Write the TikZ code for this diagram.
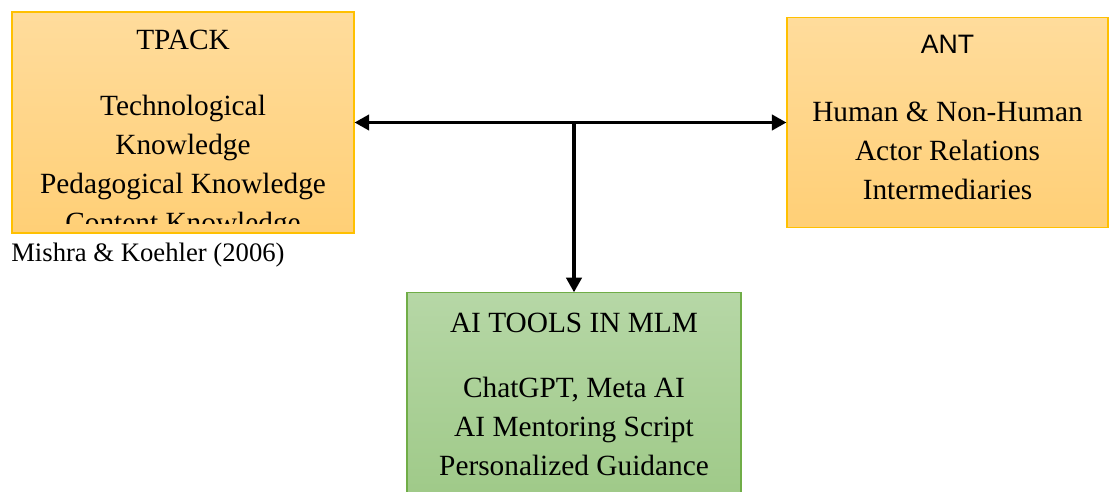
\documentclass[tikz,border=0pt]{standalone}
\usepackage{fontspec}
\setmainfont{Liberation Serif}
\newfontfamily\antfont{Liberation Sans}
\usepackage{tikz}
\usetikzlibrary{arrows.meta, positioning}
\definecolor{orangetop}{RGB}{255,220,156}
\definecolor{orangebot}{RGB}{255,207,118}
\definecolor{orangeline}{RGB}{255,192,0}
\definecolor{greentop}{RGB}{182,215,166}
\definecolor{greenbot}{RGB}{158,201,135}
\definecolor{greenline}{RGB}{112,173,71}
\tikzstyle{obox} = [rectangle, top color=orangetop, bottom color=orangebot, draw=orangeline, line width=0.8pt, inner sep=0pt]
\tikzstyle{gbox} = [rectangle, top color=greentop, bottom color=greenbot, draw=greenline, line width=0.8pt, inner sep=0pt]
\tikzstyle{txt} = [inner sep=0pt, align=center, font=\fontsize{22}{29.2}\selectfont]
\tikzstyle{arrow} = [line width=2.5pt, -{Triangle[length=11pt,width=11.5pt]}]

\begin{document}
\begin{tikzpicture}[x=0.75pt, y=-0.75pt]
				\useasboundingbox (0,0) rectangle (1110,492);
				\node (tpack)[obox, minimum width=256.5pt, minimum height=165.75pt] at (183,122.5) {};
				\node (ant)[obox, minimum width=240.75pt, minimum height=157.5pt] at (947.5,122.5) {};
				\node (aibox)[gbox, minimum width=250.5pt, minimum height=160pt] at (574,399.5) {};
				% box texts
				\node (tpacktitle)[txt, anchor=base] at (183,50) {TPACK};
				\begin{scope}
					\clip (tpack.north west) rectangle ([yshift=7.5pt]tpack.south east);
					\node (tpackbody)[txt, anchor=north] at (183,95) {Technological\\Knowledge\\Pedagogical Knowledge\\Content Knowledge};
				\end{scope}
				\node (anttitle)[txt, anchor=base, font=\antfont\fontsize{20}{24}\selectfont] at (947.5,54) {ANT};
				\node (antbody)[txt, anchor=north] at (947.5,102) {Human \& Non-Human\\Actor Relations\\Intermediaries};
				\node (aititle)[txt, anchor=base] at (574,332) {AI TOOLS IN MLM};
				\node (aibody)[txt, anchor=north] at (574,377) {ChatGPT, Meta AI\\AI Mentoring Script\\Personalized Guidance};
				\node (cite)[txt, anchor=base west, font=\fontsize{20}{24}\selectfont] at (11,261) {Mishra \& Koehler (2006)};
				% connectors
				\draw [arrow, {Triangle[length=11pt,width=11.5pt]}-{Triangle[length=11pt,width=11.5pt]}] (tpack) -- (ant);
				\draw [arrow] (aibox.north |- tpack.east) -- (aibox.north);
			\end{tikzpicture}
\end{document}
